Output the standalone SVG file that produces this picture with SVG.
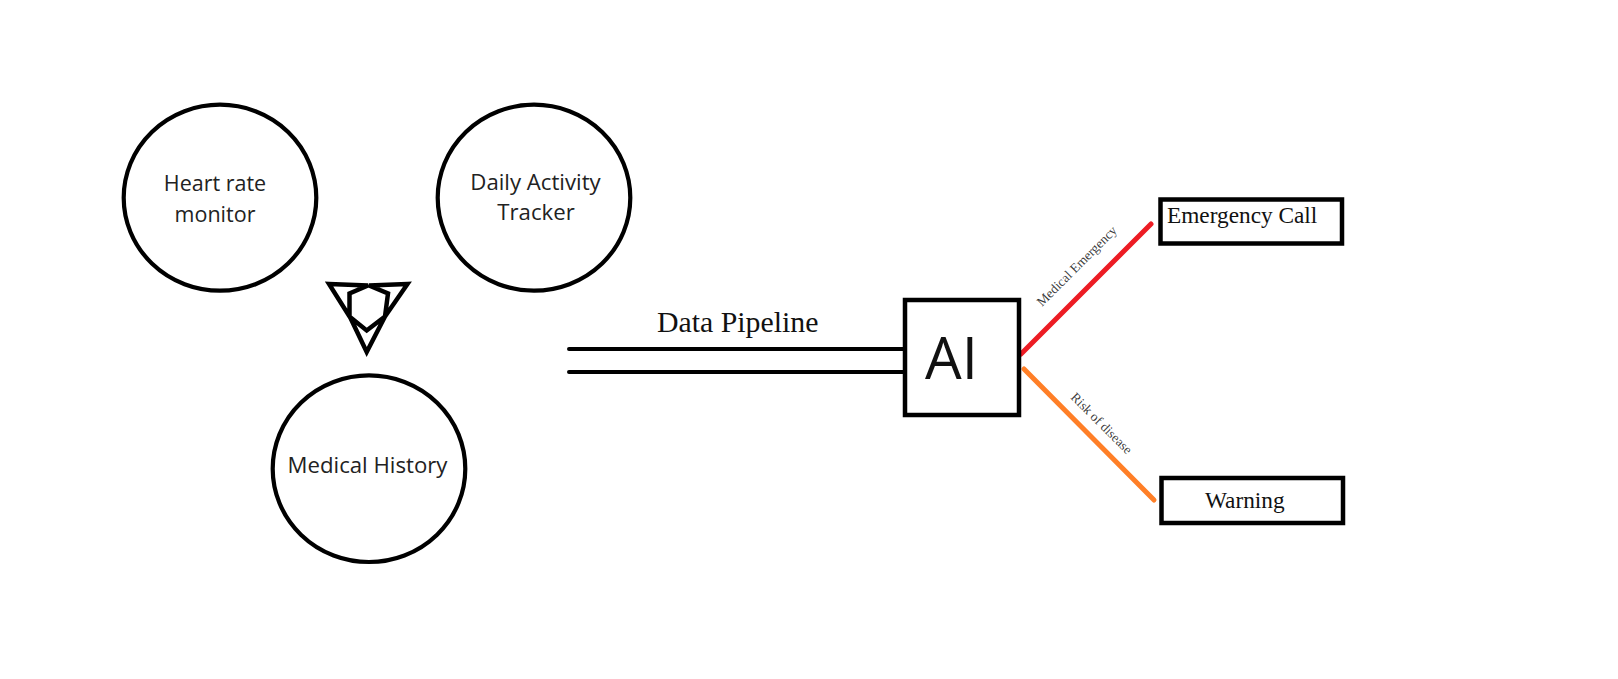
<svg xmlns="http://www.w3.org/2000/svg" width="1618" height="679" viewBox="0 0 1618 679">
<style>
.c{fill:#fff;stroke:#000;stroke-width:4.2}
.b{fill:#fff;stroke:#000;stroke-width:4.5}
.s{font-family:"Open Sans","Noto Sans",sans-serif;font-size:22.2px;fill:#222;text-anchor:middle}
.t{font-family:"Liberation Serif","Times New Roman",serif;fill:#111}
.l{fill:none;stroke-linecap:round}
</style>
<rect width="1618" height="679" fill="#fff"/>
<g id="connectors">
<path class="l" stroke="#000" stroke-width="4" d="M569 349H905M569 372H905"/>
<path class="l" stroke="#ed1c24" stroke-width="5" d="M1021 354L1151 224"/>
<path class="l" stroke="#ff7f27" stroke-width="5" d="M1024 369L1154 500"/>
<text class="t" font-size="13.300" fill-opacity=".85" transform="translate(1042 307) rotate(-45)">Medical Emergency</text>
<text class="t" font-size="13.300" fill-opacity=".85" transform="translate(1070 398) rotate(45)">Risk of disease</text>
<text class="t" font-size="29.800" x="657" y="332">Data Pipeline</text>
</g>
<g id="heart-rate-monitor">
<ellipse class="c" cx="220" cy="197.700" rx="96.300" ry="93"/>
<text class="s" x="215" y="191" style="font-size:21.5px">Heart rate</text>
<text class="s" x="215" y="221.500" style="font-size:21.5px">monitor</text>
</g>
<g id="daily-activity-tracker">
<ellipse class="c" cx="534" cy="197.700" rx="96.300" ry="93"/>
<text class="s" x="535.500" y="189.500">Daily Activity</text>
<text class="s" x="536" y="220">Tracker</text>
</g>
<g id="medical-history">
<ellipse class="c" cx="369" cy="468.700" rx="96.300" ry="93.300"/>
<text class="s" x="367.500" y="473">Medical History</text>
</g>
<g id="hub">
<path fill="none" stroke="#000" stroke-width="4.500" stroke-linejoin="miter" d="M329 284L368 285.500L349.500 293.500V316.500ZM407.500 284L369 285.500L388 293.500L385 316.500ZM366.700 352L385 316.500L366.700 330.500L350 317Z"/>
</g>
<g id="ai">
<rect class="b" x="905" y="300" width="114" height="115"/>
<text x="925" y="379" font-family="Open Sans,Noto Sans,sans-serif" font-size="58" fill="#111">AI</text>
</g>
<g id="emergency-call">
<rect class="b" x="1160.500" y="199.500" width="181.500" height="44"/>
<text class="t" font-size="23.300" x="1167" y="222.800">Emergency Call</text>
</g>
<g id="warning">
<rect class="b" x="1161.500" y="478" width="181.500" height="45"/>
<text class="t" font-size="23.300" x="1205" y="508">Warning</text>
</g>
</svg>
